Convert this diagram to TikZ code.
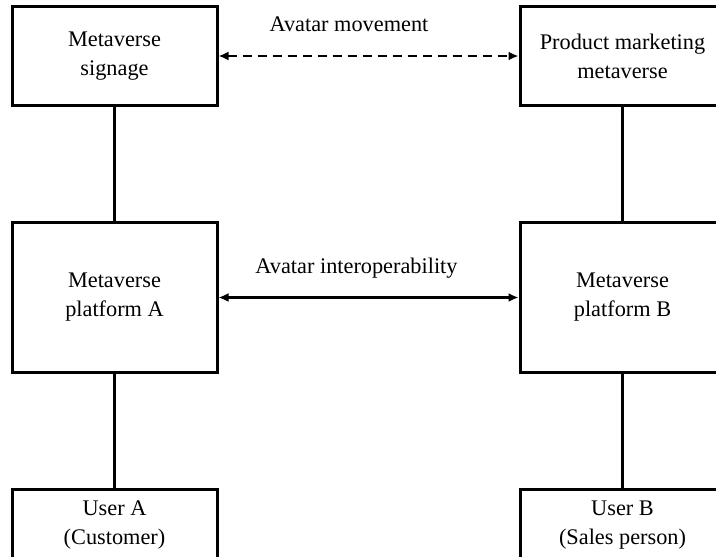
\documentclass[tikz,border=0pt]{standalone}
\usepackage{fontspec}
\setmainfont{Liberation Serif}
\usetikzlibrary{arrows.meta}
\begin{document}
\begin{tikzpicture}[x=1pt,y=-1pt,
  box/.style={draw,line width=3pt,minimum width=205pt,align=center,
    inner sep=0pt,font=\fontsize{22.3}{29}\selectfont},
  link/.style={line width=2.2pt},
  tip/.style={line width=2.4pt,{Latex[length=10pt,width=9pt]}-{Latex[length=10pt,width=9pt]}},
  lbl/.style={font=\fontsize{22.3}{29}\selectfont,inner sep=0pt}]
  \useasboundingbox (0,0) rectangle (716,557);
  \clip (0,0) rectangle (716,557);
  % top row
  \node[box,minimum height=99pt] (sign) at (114.5,56) {Metaverse\\signage};
  \node[box,minimum height=99pt] (prod) at (622.5,56) {Product marketing\\metaverse};
  % platforms
  \node[box,minimum height=150pt] (platA) at (114.5,297.5) {Metaverse\\platform A};
  \node[box,minimum height=150pt] (platB) at (622.5,297.5) {Metaverse\\platform B};
  % users
  \node[box,minimum height=72pt] (userA) at (114.5,525.5) {User A\\(Customer)};
  \node[box,minimum height=72pt] (userB) at (622.5,525.5) {User B\\(Sales person)};
  % vertical links
  \draw[link] (sign.south) -- (platA.north);
  \draw[link] (platA.south) -- (userA.north);
  \draw[link] (prod.south) -- (platB.north);
  \draw[link] (platB.south) -- (userB.north);
  % horizontal arrows
  \draw[tip,dash pattern=on 9pt off 6pt] (sign.east) -- (prod.west);
  \draw[tip] (platA.east) -- (platB.west);
  \node[lbl] (mov) at (349,24) {Avatar movement};
  \node[lbl] (inter) at (356.5,268) {Avatar interoperability};
\end{tikzpicture}
\end{document}
